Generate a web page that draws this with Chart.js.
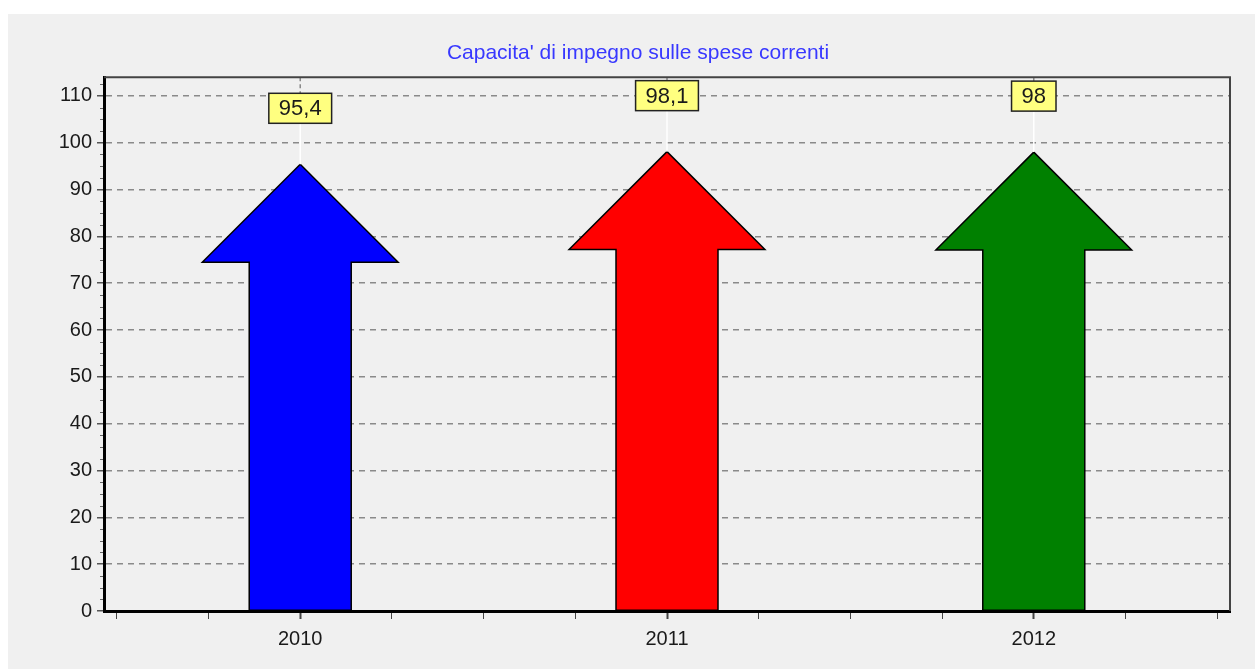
<!DOCTYPE html>
<html>
<head>
<meta charset="utf-8">
<script src="https://cdn.jsdelivr.net/npm/chart.js@4/dist/chart.umd.min.js"></script>
<style>
    html, body { margin: 0; padding: 0; background: #ffffff; }
    #wrap { position: absolute; left: 8px; top: 14px; width: 1247px; height: 655px; background: #f0f0f0; }
</style>
</head>
<body>
<div id="wrap"><canvas id="arrowChart" width="1247" height="655"></canvas></div>
<script>
// dati del grafico
const anni = ['2010', '2011', '2012'];
const valori = [95.4, 98.1, 98];
const coloriFrecce = ['#0000ff', '#ff0000', '#008000'];
const yTicks = [0, 10, 20, 30, 40, 50, 60, 70, 80, 90, 100, 110];
const titolo = "Capacita' di impegno sulle spese correnti";

const FONT = "'Liberation Sans', Arial, sans-serif";

// disegna le frecce al posto delle barre + etichette gialle
const arrowPlugin = {
    id: 'arrows',
    afterDatasetsDraw(chart) {
        const ctx = chart.ctx;
        const area = chart.chartArea;
        const meta = chart.getDatasetMeta(0);
        meta.data.forEach((bar, i) => {
            const x = bar.x, y = bar.y, base = bar.base, w = bar.width;
            const half = w / 2;
            const headHalf = w * 0.96;
            const headY = y + headHalf;

            ctx.save();
            ctx.beginPath();
            ctx.moveTo(x - half, base);
            ctx.lineTo(x - half, headY);
            ctx.lineTo(x - headHalf, headY);
            ctx.lineTo(x, y);
            ctx.lineTo(x + headHalf, headY);
            ctx.lineTo(x + half, headY);
            ctx.lineTo(x + half, base);
            ctx.closePath();
            ctx.fillStyle = coloriFrecce[i];
            ctx.fill();
            ctx.lineWidth = 1.5;
            ctx.strokeStyle = '#000000';
            ctx.stroke();

            // etichetta valore
            const txt = String(valori[i]).replace('.', ',');
            ctx.font = '22px ' + FONT;
            const tw = ctx.measureText(txt).width;
            const bw = tw + 20, bh = 30;
            const cy = y - 56;
            const top = cy - bh / 2;

            // linea guida bianca
            ctx.beginPath();
            ctx.strokeStyle = '#ffffff';
            ctx.lineWidth = 1.5;
            ctx.moveTo(x, top + bh);
            ctx.lineTo(x, y);
            ctx.stroke();
            // trattino grigio sopra
            ctx.beginPath();
            ctx.strokeStyle = '#888888';
            ctx.setLineDash([4, 3]);
            ctx.moveTo(x, area.top);
            ctx.lineTo(x, top);
            ctx.stroke();
            ctx.setLineDash([]);

            ctx.fillStyle = '#ffff80';
            ctx.fillRect(x - bw / 2, top, bw, bh);
            ctx.lineWidth = 1.5;
            ctx.strokeStyle = '#222222';
            ctx.strokeRect(x - bw / 2, top, bw, bh);
            ctx.fillStyle = '#1a1a1a';
            ctx.textAlign = 'center';
            ctx.textBaseline = 'middle';
            ctx.fillText(txt, x, cy + 1);
            ctx.restore();
        });
    },
    afterDraw(chart) {
        // cornice + tacche minori asse y
        const ctx = chart.ctx;
        const a = chart.chartArea;
        const ys = chart.scales.y;
        ctx.save();
        ctx.strokeStyle = '#444444';
        ctx.lineWidth = 2;
        ctx.beginPath();
        ctx.moveTo(a.left, a.top);
        ctx.lineTo(a.right, a.top);
        ctx.lineTo(a.right, a.bottom);
        ctx.stroke();
        ctx.strokeStyle = '#666666';
        ctx.lineWidth = 1;
        for (let v = 2.5; v < ys.max; v += 2.5) {
            if (v % 10 === 0) continue;
            const py = Math.round(ys.getPixelForValue(v)) + 0.5;
            ctx.beginPath();
            ctx.moveTo(a.left - 4, py);
            ctx.lineTo(a.left - 1, py);
            ctx.stroke();
        }
        ctx.restore();
    }
};

const ctx = document.getElementById('arrowChart');
new Chart(ctx, {
    type: 'bar',
    data: {
        datasets: [{
            data: valori.map((v, i) => ({ x: i, y: v })),
            backgroundColor: 'rgba(0,0,0,0)',
            borderWidth: 0,
            barThickness: 102
        }]
    },
    options: {
        responsive: false,
        animation: false,
        layout: { padding: { left: 38, right: 25, top: 0, bottom: 0 } },
        plugins: {
            legend: { display: false },
            tooltip: { enabled: false },
            title: {
                display: true,
                text: titolo,
                color: '#3838ff',
                font: { family: FONT, size: 21, weight: 'normal' },
                padding: { top: 27, bottom: 11 }
            }
        },
        scales: {
            x: {
                type: 'linear',
                offset: false,
                min: -0.535,
                max: 2.535,
                afterBuildTicks: (scale) => {
                    const t = [];
                    for (let v = -0.5; v <= 2.5; v += 0.25) t.push({ value: v });
                    scale.ticks = t;
                },
                afterFit: (scale) => { scale.height = 58; },
                ticks: {
                    autoSkip: false,
                    maxRotation: 0,
                    padding: 8,
                    color: '#1a1a1a',
                    font: { family: FONT, size: 20 },
                    callback: (v) => Number.isInteger(v) ? anni[v] : ''
                },
                grid: {
                    offset: false,
                    drawOnChartArea: false,
                    tickLength: 8,
                    tickColor: '#444444',
                    tickWidth: (c) => (c.tick && Number.isInteger(c.tick.value)) ? 2 : 1
                },
                border: { color: '#000000', width: 3 }
            },
            y: {
                min: 0,
                max: 114,
                afterBuildTicks: (scale) => {
                    scale.ticks = yTicks.map(v => ({ value: v }));
                },
                afterFit: (scale) => { scale.width = 58; },
                ticks: {
                    padding: 5,
                    color: '#1a1a1a',
                    font: { family: FONT, size: 20 }
                },
                grid: {
                    color: '#8a8a8a',
                    lineWidth: 1.5,
                    tickLength: 7,
                    tickColor: '#555555',
                    tickWidth: 1.5
                },
                border: { color: '#000000', width: 3, dash: [6, 5] }
            }
        }
    },
    plugins: [arrowPlugin]
});
</script>
</body>
</html>
